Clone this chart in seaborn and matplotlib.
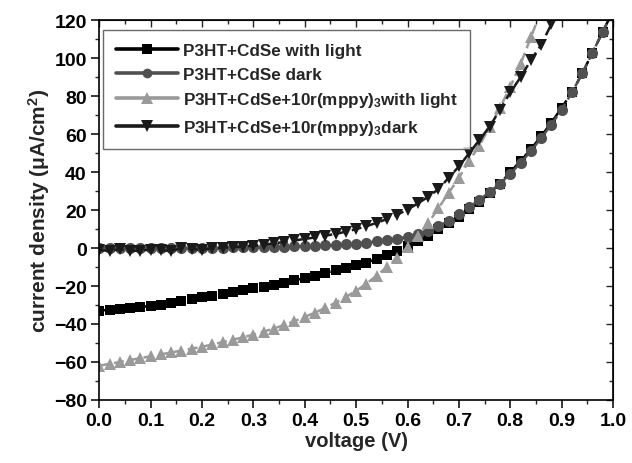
import numpy as np
import pandas as pd
import matplotlib
matplotlib.use('Agg')
import matplotlib.pyplot as plt
from matplotlib.lines import Line2D
from matplotlib.ticker import MultipleLocator
import seaborn as sns

# voltage steps (V)
voltage = [round(0.02 * i, 2) for i in range(51)]

# current density (uA/cm^2)
cdse_light = [-33, -32.5, -32, -31.5, -31, -30.5, -29.8, -29, -28, -27,
              -26, -25, -24, -23.2, -22.3, -21.3, -20.3, -19.5, -18.3, -17,
              -15.8, -14.5, -13, -11.8, -10.5, -9, -7.8, -5.5, -3.5, -1.5,
              1, 3.5, 6.5, 10, 13, 16.5, 20.5, 24.5, 29, 34,
              40, 46, 52, 59, 66, 74, 82, 92, 103, 114, 125]
cdse_dark = [0.0, 0.3, 0.2, 0.1, 0.0, 0.2, 0.3, 0.1, 0.2, 0.3,
             0.3, 0.2, 0.3, 0.4, 0.4, 0.5, 0.5, 0.6, 0.8, 0.9,
             1.0, 1.2, 1.4, 1.7, 2.0, 2.4, 2.9, 3.5, 4.2, 5.0,
             6.0, 7.5, 9.2, 11.5, 14.5, 18, 21.5, 25.5, 29.5, 34,
             39, 45, 51, 58, 65, 73, 82, 92, 103, 114, 125]
ir_light = [-62, -61, -60, -59, -58, -57, -56, -55, -54, -53,
            -52, -50.8, -49.6, -48.3, -47, -45.6, -44, -42.4, -40.5, -38.5,
            -36.3, -34, -31.5, -28.8, -25.8, -22.5, -18.8, -14.5, -10, -5,
            0.5, 6.5, 13, 21, 29, 37, 46, 54, 64, 74,
            85, 97, 111, 125]
ir_dark = [-1, -1.5, -0.5, -1.5, -1.3, -0.8, -1.2, -1.5, 0, -0.5,
           -1, 0, 0.2, 0.5, 0.8, 1.2, 1.8, 2.5, 3.2, 4,
           4.8, 5.6, 6.5, 7.5, 8.6, 10, 11.5, 13.3, 15.3, 17.6,
           20.3, 23.5, 27, 31, 37, 43, 50, 57, 64, 73,
           82, 90, 99, 107, 118, 128]

labels = ['P3HT+CdSe with light',
          'P3HT+CdSe dark',
          r'P3HT+CdSe+10r(mppy)$_{3}$with light',
          r'P3HT+CdSe+10r(mppy)$_{3}$dark']

sns.set_style('ticks')
plt.rcParams['font.family'] = ['Liberation Sans', 'DejaVu Sans']
plt.rcParams['font.weight'] = 'bold'
plt.rcParams['mathtext.fontset'] = 'custom'
plt.rcParams['mathtext.rm'] = 'Liberation Sans:bold'
plt.rcParams['mathtext.bf'] = 'Liberation Sans:bold'
plt.rcParams['mathtext.it'] = 'Liberation Sans:bold'

fig = plt.figure(figsize=(6.32, 4.64), dpi=100)
ax = fig.add_axes([0.157, 0.136, 0.813, 0.818])

series = [
    (cdse_light, 's', '#000000', 7.5),
    (cdse_dark, 'o', '#505050', 8),
    (ir_light, '^', '#9a9a9a', 9),
    (ir_dark, 'v', '#1a1a1a', 9),
]
handles = []
for (vals, mk, col, ms), lab in zip(series, labels):
    df = pd.DataFrame({'V': voltage[:len(vals)], 'J': vals})
    sns.lineplot(data=df, x='V', y='J', ax=ax, color=col, marker=mk,
                 markersize=ms, markeredgewidth=0, linestyle=(0, (4, 2)),
                 linewidth=1.8, label=lab, legend=False)
    handles.append(Line2D([], [], color=col, marker=mk, markersize=ms - 1,
                          markeredgewidth=0, linewidth=2.6, label=lab))

ax.set_xlim(0, 1.0)
ax.set_ylim(-80, 120)
ax.xaxis.set_major_locator(MultipleLocator(0.1))
ax.xaxis.set_minor_locator(MultipleLocator(0.05))
ax.yaxis.set_major_locator(MultipleLocator(20))
ax.yaxis.set_minor_locator(MultipleLocator(10))
ax.xaxis.set_major_formatter(matplotlib.ticker.FormatStrFormatter('%.1f'))

ax.tick_params(which='major', direction='out', length=6, width=1.1,
               labelsize=14, colors='black', pad=3)
ax.tick_params(which='minor', direction='out', length=3, width=1.0)
secx = ax.secondary_xaxis('top')
secx.xaxis.set_major_locator(MultipleLocator(0.1))
secx.xaxis.set_minor_locator(MultipleLocator(0.05))
secx.tick_params(which='major', direction='in', length=5, width=1.0, labeltop=False)
secx.tick_params(which='minor', direction='in', length=3, width=1.0)
secy = ax.secondary_yaxis('right')
secy.yaxis.set_major_locator(MultipleLocator(20))
secy.yaxis.set_minor_locator(MultipleLocator(10))
secy.tick_params(which='major', direction='in', length=5, width=1.0, labelright=False)
secy.tick_params(which='minor', direction='in', length=3, width=1.0)

for s in ax.spines.values():
    s.set_visible(True)
    s.set_linewidth(1.2)
    s.set_color('black')

for t in ax.get_xticklabels() + ax.get_yticklabels():
    t.set_fontweight('bold')

ax.set_xlabel('voltage (V)', fontsize=14.5, fontweight='bold', labelpad=1)
ax.set_ylabel(r'current density ($\mu$A/cm$^{2}$)', fontsize=15,
              fontweight='bold', labelpad=1)

leg = ax.legend(handles=handles, loc='upper left', bbox_to_anchor=(0.008, 0.974),
                prop={'size': 12.3, 'weight': 'bold'}, frameon=True,
                fancybox=False, edgecolor='#444444', handlelength=3.6,
                handletextpad=0.3, labelspacing=0.5, borderpad=0.75,
                borderaxespad=0)
leg.get_frame().set_linewidth(1.0)

fig.savefig('out.png', dpi=100)
